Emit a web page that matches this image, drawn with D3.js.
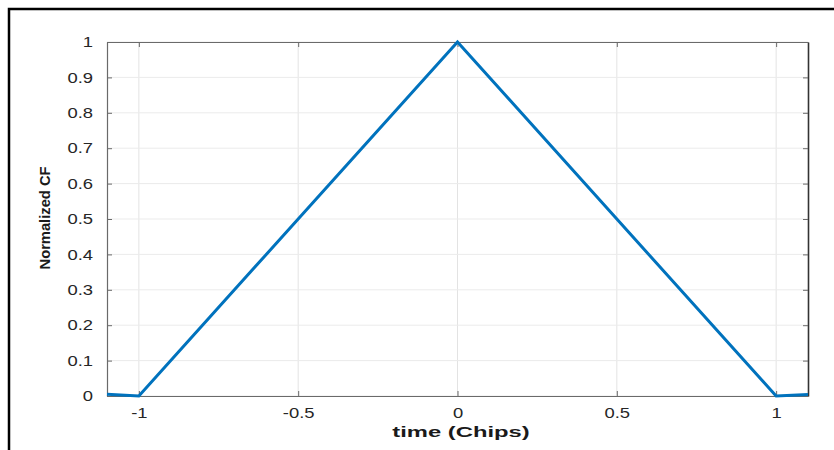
<!DOCTYPE html>
<html>
<head>
<meta charset="utf-8">
<script src="https://cdn.jsdelivr.net/npm/d3@7"></script>
<style>
  body { margin: 0; background: #fff; }
  svg { display: block; font-family: "Liberation Sans", Arial, sans-serif; }
</style>
</head>
<body>
<div class="container"></div>
<script>
// correlation function samples (time in chips, normalized value)
const times = [-1.1, -1.0, 0, 1.0, 1.1];
const values = [0.005, 0, 1, 0, 0.004];
const xTicks = [-1, -0.5, 0, 0.5, 1];
const yTicks = [0, 0.1, 0.2, 0.3, 0.4, 0.5, 0.6, 0.7, 0.8, 0.9, 1];

const width = 834;
const height = 450;
const margin = { top: 42, right: 26, bottom: 54, left: 107 };
const innerWidth = width - (margin.left + margin.right);
const innerHeight = height - (margin.top + margin.bottom);
const stretch = 1.27; // reference text is stretched sideways

let svg = d3.select(".container").append("svg")
  .attr("width", width).attr("height", height);

// outer black frame (left + top only)
svg.append("path")
  .attr("d", `M9,${height} V9 H${width}`)
  .attr("fill", "none").attr("stroke", "#000").attr("stroke-width", 2.5);

let g = svg.append("g")
  .attr("transform", `translate(${margin.left}, ${margin.top})`);

let xScale = d3.scaleLinear([-1.1, 1.1], [0, innerWidth]);
let yScale = d3.scaleLinear([0, 1], [innerHeight, 0]);

// grid
g.append("g").selectAll("line").data(xTicks).join("line")
  .attr("x1", d => xScale(d)).attr("x2", d => xScale(d))
  .attr("y1", 0).attr("y2", innerHeight)
  .attr("stroke", "#e3e3e3").attr("stroke-width", 1);
g.append("g").selectAll("line").data(yTicks).join("line")
  .attr("y1", d => yScale(d)).attr("y2", d => yScale(d))
  .attr("x1", 0).attr("x2", innerWidth)
  .attr("stroke", "#ebebeb").attr("stroke-width", 1);

// axes (ticks point inward like matlab)
const fmt = d => String(d);
let xAxis = d3.axisBottom(xScale).tickValues(xTicks).tickSizeInner(-5).tickSizeOuter(0)
  .tickPadding(12).tickFormat(fmt);
let yAxis = d3.axisLeft(yScale).tickValues(yTicks).tickSizeInner(-5).tickSizeOuter(0)
  .tickPadding(14).tickFormat(fmt);
let xTop = d3.axisTop(xScale).tickValues(xTicks).tickSizeInner(-5).tickSizeOuter(0).tickFormat("");
let yRight = d3.axisRight(yScale).tickValues(yTicks).tickSizeInner(-5).tickSizeOuter(0).tickFormat("");

let gx = g.append("g").attr("transform", `translate(0, ${innerHeight})`).call(xAxis);
let gy = g.append("g").call(yAxis);
let gxt = g.append("g").call(xTop);
let gyr = g.append("g").attr("transform", `translate(${innerWidth}, 0)`).call(yRight);

[gx, gy, gxt, gyr].forEach(a => {
  a.select(".domain").attr("stroke", "#6a6a6a").attr("stroke-width", 1.2);
  a.selectAll(".tick line").attr("stroke", "#6a6a6a");
  a.selectAll("text").attr("font-size", 14.5).attr("fill", "#262626")
    .attr("font-family", "Liberation Sans, Arial, sans-serif");
});
gyr.select(".domain").attr("stroke", "#333").attr("stroke-width", 1.6);
// drop the empty label nodes of the mirror axes
gxt.selectAll("text").remove();
gyr.selectAll("text").remove();

// widen tick labels with a horizontal scale
gx.selectAll(".tick text").attr("transform", `scale(${stretch},1)`);
gy.selectAll(".tick text")
  .attr("x", -14 / stretch)
  .attr("transform", `scale(${stretch},1)`);

// line
let line = d3.line().x((d, i) => xScale(times[i])).y((d, i) => yScale(values[i]));
g.append("path")
  .datum(values)
  .attr("d", line)
  .attr("fill", "none")
  .attr("stroke", "#0072BD")
  .attr("stroke-width", 3);

// axis labels
svg.append("text")
  .attr("transform", "translate(461, 436.5) scale(1.7,1)")
  .attr("text-anchor", "middle")
  .attr("font-size", 14).attr("font-weight", "bold").attr("fill", "#1a1a1a")
  .text("time (Chips)");

svg.append("text")
  .attr("transform", "translate(50, 218) rotate(-90) scale(1.09,1.05)")
  .attr("text-anchor", "middle")
  .attr("font-size", 13.5).attr("font-weight", "bold").attr("fill", "#1a1a1a")
  .text("Normalized CF");
</script>
</body>
</html>
